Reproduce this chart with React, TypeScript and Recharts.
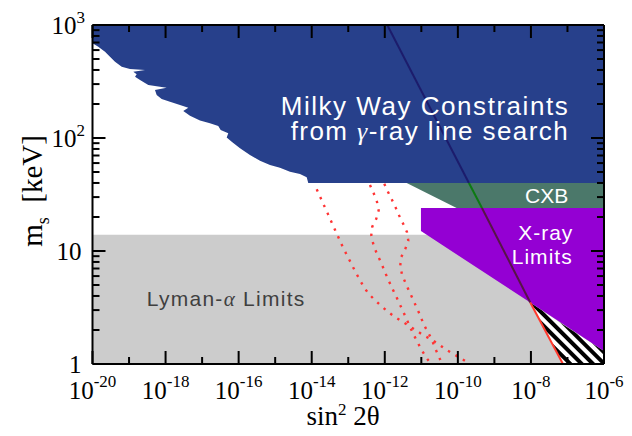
import React from 'react';
import { ComposedChart, Area, Line, XAxis, YAxis, Customized } from 'recharts';

// ---------- axes ----------
const xTicks = [1e-20, 1e-19, 1e-18, 1e-17, 1e-16, 1e-15, 1e-14, 1e-13, 1e-12, 1e-11, 1e-10, 1e-9, 1e-8, 1e-7, 1e-6];
const xTickExponents = ['-20', '-18', '-16', '-14', '-12', '-10', '-8', '-6'];
const yTicks = [1, 2, 3, 4, 5, 6, 7, 8, 9, 10, 20, 30, 40, 50, 60, 70, 80, 90, 100, 200, 300, 400, 500, 600, 700, 800, 900, 1000];
const yTickBase = ['1', '10', '10', '10'];
const yTickSup = ['', '', '2', '3'];

// ---------- excluded regions ----------
// Milky Way gamma-ray line constraints: lower edge (upper edge is the top of the plot, 1000 keV)
const milkyWayX = [1e-20, 1.44e-20, 2.2e-20, 3.01e-20, 4.13e-20, 6.3e-20, 1.06e-19, 2.74e-19, 1.31e-19, 1.62e-19, 1.46e-19, 2.0e-19, 3.37e-19, 1.07e-18, 5.13e-19, 5.71e-19, 7.83e-19, 1.32e-18, 2.48e-18, 4.19e-18, 3.05e-18, 4.66e-18, 8.75e-18, 1.64e-17, 2.77e-17, 3.22e-17, 5.2e-17, 4.71e-17, 6.46e-17, 1.09e-16, 2.04e-16, 3.84e-16, 7.21e-16, 1.35e-15, 2.54e-15, 4.77e-15, 7.28e-15, 8.05e-15, 1e-6];
const milkyWayLow = [689, 643, 581, 524, 473, 428, 408, 400, 386, 366, 349, 326, 294, 279, 266, 240, 221, 209, 196, 185, 173, 157, 143, 135, 128, 118, 110, 101, 92.7, 81.1, 70.8, 63.0, 57.7, 54.6, 50.3, 48.0, 44.9, 40, 40];
const milkyWayTop = 1000;

// CXB band
const cxbX = [3.97e-12, 9.27e-11, 1e-6];
const cxbLow = [40, 24, 24];
const cxbTop = 40;

// X-ray limits
const xrayX = [9.77e-12, 9.6e-9, 1e-6];
const xrayLow = [15.0, 3.5, 1.3];
const xrayTop = 24;

// Lyman-alpha limits
const lymanX = [1e-20, 1e-6];
const lymanLow = 1;
const lymanTop = 13.9;

// hatched (unphysical) region below X-ray limits, right of the red line
const hatchX = [9.6e-9, 7.52e-8, 1e-6];
const hatchLow = [3.5, 1, 1];
const hatchHigh = [3.5, 2.24, 1.3];

// production line (one straight line, drawn in pieces over the regions)
const prodX = [1.17e-12, 2.01e-10, 4.57e-10, 9.6e-9, 7.52e-8];
const prodY = [1000, 40, 24, 3.5, 1];
const prodColors = ['#1c1c6c', '#0c7a12', '#571446', '#ff3a2e'];

// dotted red curves
const curveAX = [1.37e-14, 1.76e-14, 2.21e-14, 2.79e-14, 3.52e-14, 4.42e-14, 5.57e-14, 7.03e-14, 9.06e-14, 1.16e-13, 1.48e-13, 1.96e-13, 2.58e-13, 3.53e-13, 5.22e-13, 7.85e-13, 1.22e-12, 1.86e-12, 3.01e-12, 4.68e-12, 7.45e-12, 1.18e-11, 1.84e-11, 3.1e-11, 4.94e-11, 7.82e-11, 1.27e-10, 1.98e-10];
const curveAY = [35.2, 29.4, 25.0, 21.2, 17.9, 15.2, 12.9, 10.9, 9.27, 7.94, 6.79, 5.73, 4.9, 4.22, 3.71, 3.28, 2.9, 2.62, 2.37, 2.17, 1.97, 1.78, 1.66, 1.48, 1.33, 1.22, 1.11, 1.02];
const curveBX = [3.93e-13, 4.97e-13, 6.11e-13, 6.79e-13, 5.85e-13, 4.54e-13, 4.27e-13, 4.84e-13, 5.85e-13, 7.38e-13, 9.31e-13, 1.15e-12, 1.45e-12, 1.84e-12, 2.34e-12, 2.95e-12, 3.72e-12, 4.68e-12, 5.9e-12, 7.6e-12, 9.95e-12, 1.34e-11, 1.84e-11];
const curveBY = [38.4, 32.4, 27.3, 22.9, 19.3, 16.4, 13.8, 11.5, 9.73, 8.28, 6.97, 5.89, 5.0, 4.25, 3.61, 3.07, 2.61, 2.2, 1.87, 1.59, 1.35, 1.15, 1.0];
const curveCX = [9.68e-13, 1.22e-12, 1.57e-12, 1.99e-12, 2.49e-12, 3.21e-12, 4.05e-12, 4.4e-12, 3.63e-12, 2.82e-12, 2.65e-12, 2.95e-12, 3.63e-12, 4.59e-12, 5.79e-12, 7.28e-12, 9.18e-12, 1.13e-11, 1.46e-11, 1.92e-11, 2.32e-11, 2.91e-11, 3.67e-11];
const curveCY = [39.4, 33.5, 28.4, 24.2, 20.5, 17.3, 14.7, 12.3, 10.4, 8.85, 7.41, 6.22, 5.28, 4.45, 3.78, 3.21, 2.72, 2.29, 1.95, 1.66, 1.41, 1.19, 1.01];

// ---------- build series data ----------
const rangeData = (xs: number[], lows: number[] | number, highs: number[] | number) =>
  xs.map((x, i) => ({
    x,
    range: [Array.isArray(lows) ? lows[i] : lows, Array.isArray(highs) ? highs[i] : highs],
  }));
const lineData = (xs: number[], ys: number[]) => xs.map((x, i) => ({ x, y: ys[i] }));

const milkyWayData = rangeData(milkyWayX, milkyWayLow, milkyWayTop);
const cxbData = rangeData(cxbX, cxbLow, cxbTop);
const xrayData = rangeData(xrayX, xrayLow, xrayTop);
const lymanData = rangeData(lymanX, lymanLow, lymanTop);
const hatchData = rangeData(hatchX, hatchLow, hatchHigh);
const prodSegments = prodColors.map((c, i) => ({
  color: c,
  data: lineData(prodX.slice(i, i + 2), prodY.slice(i, i + 2)),
}));
const curves = [lineData(curveAX, curveAY), lineData(curveBX, curveBY), lineData(curveCX, curveCY)];

// ---------- styling ----------
const SERIF = "'Liberation Serif', 'Times New Roman', serif";
const SANS = "'Liberation Sans', Arial, Helvetica, sans-serif";
const MAJOR = 13;
const MINOR = 7;

const expOf = (v: number) => Math.round(Math.log10(v));
const isDecade = (v: number) => Math.abs(Math.log10(v) - Math.round(Math.log10(v))) < 1e-9;

const BottomTick = (props: any) => {
  const { x, y, payload } = props;
  const e = expOf(payload.value);
  const major = e % 2 === 0;
  const idx = (e + 20) / 2;
  return (
    <g>
      <line x1={x} x2={x} y1={y} y2={y - (major ? MAJOR : MINOR)} stroke="#000" strokeWidth={2} />
      {major && (
        <text x={x} y={y + 35} textAnchor="middle" fontFamily={SERIF} fontSize={25} fill="#000">
          10
          <tspan dy={-12} fontSize={17}>{xTickExponents[idx]}</tspan>
        </text>
      )}
    </g>
  );
};

const TopTick = (props: any) => {
  const { x, y, payload } = props;
  const major = expOf(payload.value) % 2 === 0;
  return <line x1={x} x2={x} y1={y} y2={y + (major ? MAJOR : MINOR)} stroke="#000" strokeWidth={2} />;
};

const LeftTick = (props: any) => {
  const { x, y, payload } = props;
  const major = isDecade(payload.value);
  const idx = expOf(payload.value);
  const sup = major ? yTickSup[idx] : '';
  return (
    <g>
      <line x1={x} x2={x + (major ? MAJOR : MINOR)} y1={y} y2={y} stroke="#000" strokeWidth={2} />
      {major && (
        <text x={x - (sup ? 7.5 : 11)} y={y + 8.5} textAnchor="end" fontFamily={SERIF} fontSize={25} fill="#000">
          {yTickBase[idx]}
          {sup && <tspan dy={-11} fontSize={17}>{sup}</tspan>}
        </text>
      )}
    </g>
  );
};

const RightTick = (props: any) => {
  const { x, y, payload } = props;
  const major = isDecade(payload.value);
  return <line x1={x} x2={x - (major ? MAJOR : MINOR)} y1={y} y2={y} stroke="#000" strokeWidth={2} />;
};

const PatternDefs = () => (
  <defs>
    <pattern id="hatch" patternUnits="userSpaceOnUse" width={8} height={8} patternTransform="rotate(-45)">
      <rect x={0} y={0} width={8} height={8} fill="#fff" />
      <rect x={0} y={0} width={4} height={8} fill="#000" />
    </pattern>
  </defs>
);

const Overlay = () => (
  <svg
    width={624}
    height={428}
    style={{ position: 'absolute', left: 0, top: 0, pointerEvents: 'none', overflow: 'visible' }}
  >
    <g fontFamily={SANS} fill="#fff">
      <text x={272.7} y={107} fontSize={26} textLength={287} lengthAdjust="spacing">
        Milky Way Constraints
      </text>
      <text x={282.7} y={132} fontSize={26} textLength={277} lengthAdjust="spacing">
        from <tspan fontFamily={SERIF} fontStyle="italic">γ</tspan>-ray line search
      </text>
      <text x={517} y={195.3} fontSize={21}>CXB</text>
      <text x={510.3} y={232} fontSize={21} textLength={54} lengthAdjust="spacing">X-ray</text>
      <text x={503.7} y={256.3} fontSize={21} textLength={60} lengthAdjust="spacing">Limits</text>
    </g>
    <text x={138.7} y={298} fontFamily={SANS} fontSize={21} fill="#3f3f3f" textLength={157.6} lengthAdjust="spacing">
      Lyman-<tspan fontFamily={SERIF} fontStyle="italic">α</tspan> Limits
    </text>
    <text transform="translate(34,183) rotate(-90)" textAnchor="middle" fontFamily={SERIF} fontSize={29} fill="#000">
      m<tspan dy={7} fontSize={18}>s</tspan>
      <tspan dy={-7}>{'\u00a0\u00a0[keV]'}</tspan>
    </text>
    <text x={335} y={417} textAnchor="middle" fontFamily={SERIF} fontSize={27} fill="#000">
      sin<tspan dy={-10} fontSize={17}>2</tspan>
      <tspan dy={10}>{'\u00a02θ'}</tspan>
    </text>
  </svg>
);

export default function App() {
  return (
    <div style={{ position: 'relative', width: 624, height: 428 }}>
      <ComposedChart
        width={624}
        height={428}
        margin={{ top: 7, right: 18, bottom: 22, left: 4.5 }}
        style={{ background: '#fff' }}
      >
        <Area data={lymanData} dataKey="range" stroke="none" fill="#cccccc" fillOpacity={1} isAnimationActive={false} />
        <Area data={hatchData} dataKey="range" stroke="none" fill="url(#hatch)" fillOpacity={1} isAnimationActive={false} />
        <Area data={cxbData} dataKey="range" stroke="none" fill="#4b786a" fillOpacity={1} isAnimationActive={false} />
        <Area data={xrayData} dataKey="range" stroke="none" fill="#9400d3" fillOpacity={1} isAnimationActive={false} />
        <Area data={milkyWayData} dataKey="range" stroke="none" fill="#27408b" fillOpacity={1} isAnimationActive={false} />
        {curves.map((d, i) => (
          <Line
            key={'c' + i}
            data={d}
            dataKey="y"
            stroke="#ff3333"
            strokeWidth={2.4}
            strokeDasharray="2.4 6.2"
            dot={false}
            activeDot={false}
            isAnimationActive={false}
          />
        ))}
        {prodSegments.map((s, i) => (
          <Line
            key={'p' + i}
            data={s.data}
            dataKey="y"
            stroke={s.color}
            strokeWidth={2}
            dot={false}
            activeDot={false}
            isAnimationActive={false}
          />
        ))}
        <XAxis
          dataKey="x"
          type="number"
          scale="log"
          domain={[1e-20, 1e-6]}
          allowDataOverflow
          ticks={xTicks}
          interval={0}
          height={50}
          tickSize={0}
          tickMargin={0}
          tickLine={false}
          axisLine={{ stroke: '#000', strokeWidth: 2 }}
          tick={<BottomTick />}
        />
        <XAxis
          xAxisId="top"
          orientation="top"
          dataKey="x"
          type="number"
          scale="log"
          domain={[1e-20, 1e-6]}
          allowDataOverflow
          ticks={xTicks}
          interval={0}
          height={10}
          tickSize={0}
          tickMargin={0}
          tickLine={false}
          axisLine={{ stroke: '#000', strokeWidth: 2 }}
          tick={<TopTick />}
        />
        <YAxis
          type="number"
          scale="log"
          domain={[1, 1000]}
          allowDataOverflow
          ticks={yTicks}
          interval={0}
          width={80}
          tickSize={0}
          tickMargin={0}
          tickLine={false}
          axisLine={{ stroke: '#000', strokeWidth: 2 }}
          tick={<LeftTick />}
        />
        <YAxis
          yAxisId="right"
          orientation="right"
          type="number"
          scale="log"
          domain={[1, 1000]}
          allowDataOverflow
          ticks={yTicks}
          interval={0}
          width={10}
          tickSize={0}
          tickMargin={0}
          tickLine={false}
          axisLine={{ stroke: '#000', strokeWidth: 2 }}
          tick={<RightTick />}
        />
        <Customized component={PatternDefs} />
      </ComposedChart>
      <Overlay />
    </div>
  );
}
